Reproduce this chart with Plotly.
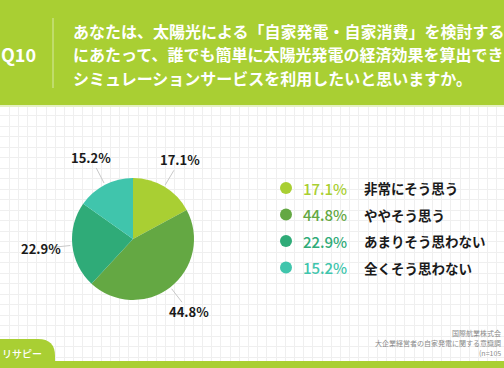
import math
import plotly.graph_objects as go

# ---- data ----
labels = ["非常にそう思う", "ややそう思う", "あまりそう思わない", "全くそう思わない"]
values = [17.1, 44.8, 22.9, 15.2]
colors = ["#a9cf33", "#64a843", "#2fab78", "#40c5ac"]
question_no = "Q10"
title_lines = [
    "あなたは、太陽光による「自家発電・自家消費」を検討する",
    "にあたって、誰でも簡単に太陽光発電の経済効果を算出でき",
    "シミュレーションサービスを利用したいと思いますか。",
]
source_lines = ["国際航業株式会", "大企業経営者の自家発電に関する意識調", "(n=105"]
brand = "リサピー"

# ---- layout constants ----
W, H = 504, 368
cx, cy, r = 133, 239, 61
GREEN = "#a9cf33"
JP = "Noto Sans CJK JP"

fig = go.Figure()
# empty trace to enable the background grid axes
fig.add_trace(go.Scatter(x=[], y=[], showlegend=False, hoverinfo="skip"))
fig.add_trace(go.Pie(
    labels=labels, values=values, sort=False, direction="clockwise", rotation=0,
    marker=dict(colors=colors, line=dict(width=0)), textinfo="none",
    showlegend=False, hoverinfo="label+percent",
    domain=dict(x=[(cx - r) / W, (cx + r) / W], y=[1 - (cy + r) / H, 1 - (cy - r) / H]),
))

shapes = []
annotations = []

# header band
shapes.append(dict(type="rect", x0=0, x1=W, y0=0, y1=105, fillcolor=GREEN, line_width=0, layer="above"))
shapes.append(dict(type="rect", x0=0, x1=W, y0=105, y1=107, fillcolor="#e4f0c2", line_width=0, layer="above"))
shapes.append(dict(type="line", x0=53, x1=53, y0=18, y1=88, line=dict(color="rgba(255,255,255,0.55)", width=1), layer="above"))
annotations.append(dict(x=18, y=54, text=question_no, showarrow=False, xanchor="center", yanchor="middle",
                        font=dict(family=JP, size=18, color="white", weight=700)))
for i, line in enumerate(title_lines):
    annotations.append(dict(x=71, y=31 + i * 23.3, text=line, showarrow=False, xanchor="left", yanchor="middle",
                            font=dict(family=JP, size=16, color="white", weight=700)))

# pie labels with leader lines
total = sum(values)
cum = 0
for v in values:
    th = 2 * math.pi * (cum + v / 2) / total
    cum += v
    s, c = math.sin(th), math.cos(th)
    shapes.append(dict(type="line", x0=cx + (r + 2) * s, y0=cy - (r + 2) * c,
                       x1=cx + 80 * s, y1=cy - 80 * c,
                       line=dict(color="#c8c8c8", width=1), layer="above"))
    annotations.append(dict(x=cx + 92 * s, y=cy - 92 * c, text=f"{v}%", showarrow=False,
                            xanchor="center", yanchor="middle",
                            font=dict(family=JP, size=13, color="#1a1a1a", weight=700)))

# custom legend
for i, (lab, v, col) in enumerate(zip(labels, values, colors)):
    yy = 188 + i * 26.5
    shapes.append(dict(type="circle", x0=280, x1=292, y0=yy - 6, y1=yy + 6, fillcolor=col, line_width=0, layer="above"))
    annotations.append(dict(x=301, y=yy, text=f"{v}%", showarrow=False, xanchor="left", yanchor="middle",
                            font=dict(family=JP, size=15, color=col, weight=500)))
    annotations.append(dict(x=362, y=yy, text=lab, showarrow=False, xanchor="left", yanchor="middle",
                            font=dict(family=JP, size=13.5, color="#1a1a1a", weight=700)))

# source note
for i, line in enumerate(source_lines):
    annotations.append(dict(x=W - 1, y=333 + i * 10, text=line, showarrow=False, xanchor="right", yanchor="middle",
                            font=dict(family=JP, size=7, color="#8a8a8a")))

# bottom band + tab
shapes.append(dict(type="rect", x0=0, x1=W, y0=361, y1=H, fillcolor=GREEN, line_width=0, layer="above"))
shapes.append(dict(type="path", path="M -5 362 L -5 339 L 38 339 Q 55 339 55 356 L 55 362 Z",
                   fillcolor=GREEN, line_width=0, layer="above"))
annotations.append(dict(x=0, y=353, text=brand, showarrow=False, xanchor="left", yanchor="middle",
                        font=dict(family=JP, size=10, color="white", weight=500)))

fig.update_layout(
    width=W, height=H, margin=dict(l=0, r=0, t=0, b=0),
    paper_bgcolor="white", plot_bgcolor="white",
    shapes=shapes, annotations=annotations, showlegend=False,
    xaxis=dict(range=[0, W], domain=[0, 1], showgrid=True, gridcolor="#efefef", gridwidth=1,
               tick0=0, dtick=9.2, showticklabels=False, zeroline=False, showline=False, fixedrange=True),
    yaxis=dict(range=[H, 0], domain=[0, 1], showgrid=True, gridcolor="#efefef", gridwidth=1,
               tick0=0, dtick=10.5, showticklabels=False, zeroline=False, showline=False, fixedrange=True),
)

fig.write_html("out.html", config=dict(displayModeBar=False),
               post_script="document.body.style.margin='0';document.body.style.overflow='hidden';")
